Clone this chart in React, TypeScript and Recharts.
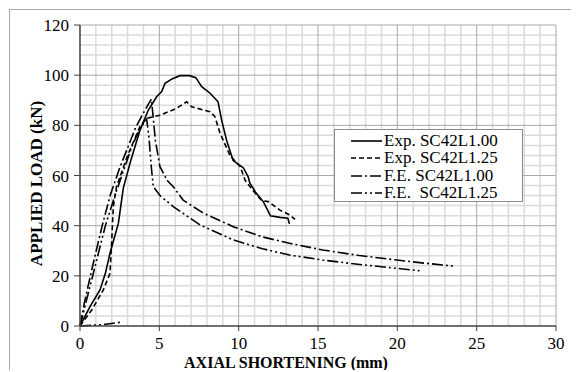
import { LineChart, Line, XAxis, YAxis, ReferenceLine, Label } from "recharts";

// shortening (mm), load (kN)
const exp100: [number, number][] = [
    [0, 0], [0.2, 2.4], [0.63, 7.7], [1.26, 14.4], [1.6, 21], [1.89, 29], [2.42, 41],
    [2.73, 55], [3.2, 66], [3.78, 78], [4.3, 86], [4.83, 91.4], [5.15, 93.5], [5.36, 96.8],
    [5.8, 98.5], [6.3, 99.8], [6.9, 99.8], [7.3, 99], [7.67, 95.4], [8.2, 92.8], [8.7, 89.4],
    [8.93, 82], [9.24, 74], [9.65, 66], [10.3, 63], [10.6, 59.5], [10.7, 57], [11.1, 53],
    [11.55, 49.6], [11.76, 47], [12, 43.9], [12.6, 43.3], [13.1, 43], [13.2, 40.7],
];

const exp125: [number, number][] = [
    [0, 0], [0.74, 6.4], [1.47, 14.4], [1.89, 21], [2.0, 34], [2.1, 47.6], [2.3, 55.5],
    [3.0, 68], [3.78, 79.5], [4.2, 82.8], [5.04, 84], [6.1, 86.8], [6.72, 89.4], [7.04, 87.4],
    [8.2, 85.4], [8.5, 83.5], [8.82, 77], [9.45, 68], [10.1, 63.5], [10.4, 58.2], [10.9, 54],
    [11.45, 50], [11.87, 49.6], [12.6, 46.2], [13.2, 44.3], [13.55, 42.5],
];

const fe100: [number, number][] = [
    [0, 0], [0.3, 10], [0.8, 24], [1.4, 40], [1.9, 52], [2.5, 63], [3.0, 71], [3.5, 79],
    [4.0, 85], [4.5, 90.5], [4.6, 84], [4.75, 74], [5.04, 63.5], [5.5, 58], [5.88, 55.5],
    [6.5, 50.2], [7.77, 45], [9.66, 39.6], [11.5, 35.5], [13.2, 33], [15.3, 30.3],
    [17.5, 28.2], [19.96, 26.3], [21.8, 25], [23.5, 23.9],
];

const fe125: [number, number][] = [
    [0, 0], [0.4, 10], [1.0, 25], [1.6, 40], [2.2, 52], [2.8, 63], [3.3, 72], [3.8, 79],
    [4.2, 82.5], [4.35, 75], [4.5, 63], [4.62, 55.5], [5.04, 52], [5.88, 47.6], [7.56, 40.3],
    [9.66, 34.3], [11.5, 30.8], [13.2, 28.3], [15.3, 26.3], [17.5, 24.6], [19.96, 23], [21.4, 22],
];

// short segment along the x axis near the origin
const fe125Toe: [number, number][] = [[0, 0], [1.5, 0.6], [2.7, 1.6]];

const xTicks = [0, 5, 10, 15, 20, 25, 30];
const yTicks = [0, 20, 40, 60, 80, 100, 120];
const xMinor = Array.from({ length: 31 }, (_, i) => i).filter((v) => v % 5 !== 0);
const yMinor = Array.from({ length: 31 }, (_, i) => i * 4).filter((v) => v % 20 !== 0);

const series = [
    { name: "Exp. SC42L1.00", data: exp100, dash: undefined as string | undefined },
    { name: "Exp. SC42L1.25", data: exp125, dash: "5 3" },
    { name: "F.E. SC42L1.00", data: fe100, dash: "11 3 2 3" },
    { name: "F.E.  SC42L1.25", data: fe125, dash: "11 3 2 3 2 3" },
];

const FONT = "'Liberation Serif', 'Times New Roman', serif";
const toPts = (d: [number, number][]) => d.map(([x, y]) => ({ x, y }));

function LegendBox() {
    return (
        <div
            style={{
                position: "absolute",
                left: 324,
                top: 119,
                width: 189,
                height: 73,
                background: "#fff",
                border: "1px solid #8c8c8c",
                fontFamily: FONT,
                fontSize: 17,
                color: "#000",
                padding: "2px 0 0 16px",
                boxSizing: "border-box",
            }}
        >
            {series.map((s) => (
                <div key={s.name} style={{ display: "flex", alignItems: "center", height: 17.5, whiteSpace: "pre" }}>
                    <svg width={31} height={6} style={{ marginRight: 2 }}>
                        <line x1={0} y1={3} x2={31} y2={3} stroke="#000" strokeWidth={1.6} strokeDasharray={s.dash} />
                    </svg>
                    <span>{s.name}</span>
                </div>
            ))}
        </div>
    );
}

export default function App() {
    return (
        <div
            style={{
                position: "relative",
                left: 1,
                top: 1,
                width: 569,
                borderTop: "1px solid #a6a6a6",
                borderLeft: "1px solid #a6a6a6",
            }}
        >
            <LineChart width={569} height={361} margin={{ top: 15, right: 23, left: 0, bottom: 0 }}>
                <XAxis
                    type="number"
                    dataKey="x"
                    domain={[0, 30]}
                    ticks={xTicks}
                    height={45}
                    tickSize={5}
                    tickMargin={6}
                    axisLine={{ stroke: "#404040", strokeWidth: 1.5 }}
                    tickLine={{ stroke: "#404040" }}
                    tick={{ fill: "#000", fontSize: 17, fontFamily: FONT }}
                >
                    <Label
                        content={(p: any) => {
                            const vb = p.viewBox;
                            return (
                                <text
                                    x={vb.x + vb.width / 2 - 32}
                                    y={vb.y + vb.height - 3}
                                    textAnchor="middle"
                                    fontFamily={FONT}
                                    fontSize={16}
                                    fontWeight="bold"
                                    fill="#000"
                                >
                                    AXIAL SHORTENING (mm)
                                </text>
                            );
                        }}
                    />
                </XAxis>
                <YAxis
                    type="number"
                    domain={[0, 120]}
                    ticks={yTicks}
                    width={70}
                    tickSize={6}
                    tickMargin={5}
                    axisLine={{ stroke: "#404040", strokeWidth: 1.5 }}
                    tickLine={{ stroke: "#404040" }}
                    tick={{ fill: "#000", fontSize: 17, fontFamily: FONT }}
                >
                    <Label
                        content={(p: any) => {
                            const vb = p.viewBox;
                            const cx = vb.x + 26;
                            const cy = vb.y + vb.height / 2 + 8;
                            return (
                                <text
                                    x={cx}
                                    y={cy}
                                    transform={`rotate(-90, ${cx}, ${cy})`}
                                    textAnchor="middle"
                                    dominantBaseline="central"
                                    fontFamily={FONT}
                                    fontSize={17}
                                    fontWeight="bold"
                                    fill="#000"
                                >
                                    APPLIED LOAD (kN)
                                </text>
                            );
                        }}
                    />
                </YAxis>
                {xMinor.map((v) => (
                    <ReferenceLine key={"xm" + v} x={v} stroke="#dadada" strokeWidth={1.5} />
                ))}
                {yMinor.map((v) => (
                    <ReferenceLine key={"ym" + v} y={v} stroke="#dadada" strokeWidth={1.5} />
                ))}
                {xTicks.slice(1).map((v) => (
                    <ReferenceLine key={"xM" + v} x={v} stroke="#a8a8a8" strokeWidth={1} />
                ))}
                {yTicks.slice(1).map((v) => (
                    <ReferenceLine key={"yM" + v} y={v} stroke="#a8a8a8" strokeWidth={1} />
                ))}
                {series.map((s) => (
                    <Line
                        key={s.name}
                        name={s.name}
                        data={toPts(s.data)}
                        dataKey="y"
                        type="linear"
                        stroke="#000"
                        strokeWidth={1.6}
                        strokeDasharray={s.dash}
                        dot={false}
                        isAnimationActive={false}
                    />
                ))}
                <Line
                    name="toe"
                    legendType="none"
                    data={toPts(fe125Toe)}
                    dataKey="y"
                    type="linear"
                    stroke="#000"
                    strokeWidth={1.6}
                    strokeDasharray="11 3 2 3 2 3"
                    dot={false}
                    isAnimationActive={false}
                />
            </LineChart>
            <LegendBox />
        </div>
    );
}
